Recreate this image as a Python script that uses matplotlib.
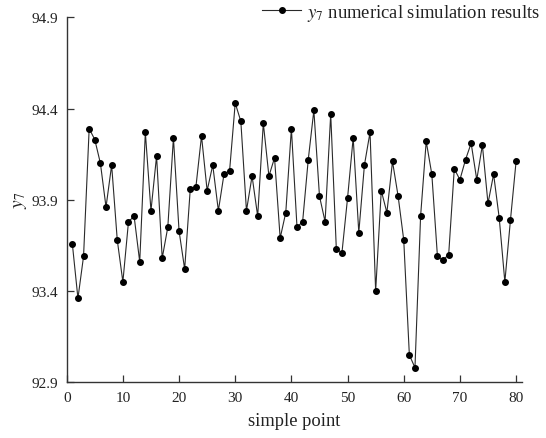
import matplotlib
matplotlib.use("Agg")
import matplotlib.pyplot as plt
import numpy as np

plt.rcParams['font.family'] = 'serif'
plt.rcParams['font.serif'] = ['Liberation Serif', 'DejaVu Serif']
plt.rcParams['mathtext.fontset'] = 'stix'

# Sample index and simulated y7 values
sample_points = list(range(1, 81))
y7_values = [
    93.66, 93.36, 93.59, 94.29, 94.23, 94.10, 93.86, 94.09, 93.68, 93.45,
    93.78, 93.81, 93.56, 94.27, 93.84, 94.14, 93.58, 93.75, 94.24, 93.73,
    93.52, 93.96, 93.97, 94.25, 93.95, 94.09, 93.84, 94.04, 94.06, 94.43,
    94.33, 93.84, 94.03, 93.81, 94.32, 94.03, 94.13, 93.69, 93.83, 94.29,
    93.75, 93.78, 94.12, 94.39, 93.92, 93.78, 94.37, 93.63, 93.61, 93.91,
    94.24, 93.72, 94.09, 94.27, 93.40, 93.95, 93.83, 94.11, 93.92, 93.68,
    93.05, 92.98, 93.81, 94.22, 94.04, 93.59, 93.57, 93.60, 94.07, 94.01,
    94.12, 94.21, 94.01, 94.20, 93.88, 94.04, 93.80, 93.45, 93.79, 94.11,
]
x_ticks = [0, 10, 20, 30, 40, 50, 60, 70, 80]
y_ticks = [92.9, 93.4, 93.9, 94.4, 94.9]

fig = plt.figure(figsize=(5.46, 4.39), dpi=100)
ax = fig.add_axes([66.7 / 546, 1 - 383.3 / 439, (521.7 - 66.7) / 546, (383.3 - 18.3) / 439])

ax.plot(sample_points, y7_values, color='#2a2a2a', linewidth=0.8,
        marker='o', markersize=4.0, markerfacecolor='black',
        markeredgecolor='black', label='$y_7$ numerical simulation results')

ax.set_xlim(0, 81)
ax.set_ylim(92.9, 94.9)
ax.set_xticks(x_ticks)
ax.set_yticks(y_ticks)
ax.set_yticklabels([f"{v:.1f}" for v in y_ticks])

for side in ('top', 'right'):
    ax.spines[side].set_visible(False)
for side in ('left', 'bottom'):
    ax.spines[side].set_linewidth(1.0)
    ax.spines[side].set_color('#333333')

ax.tick_params(direction='in', length=5, width=0.9, colors='#333333',
               labelsize=11, labelcolor='#222222', pad=6)

ax.set_xlabel('simple point', fontsize=13.3, color='#222222', labelpad=6)
ax.set_ylabel('$y_7$', fontsize=14, color='#222222', labelpad=2)

leg = ax.legend(loc='center left', frameon=False, fontsize=13.4,
                handlelength=2.1, handletextpad=0.3, borderpad=0,
                borderaxespad=0, numpoints=1,
                bbox_to_anchor=(262 / 546, 1 - 13 / 439),
                bbox_transform=fig.transFigure)
for t in leg.get_texts():
    t.set_color('#222222')

fig.savefig('out.png', dpi=100)
